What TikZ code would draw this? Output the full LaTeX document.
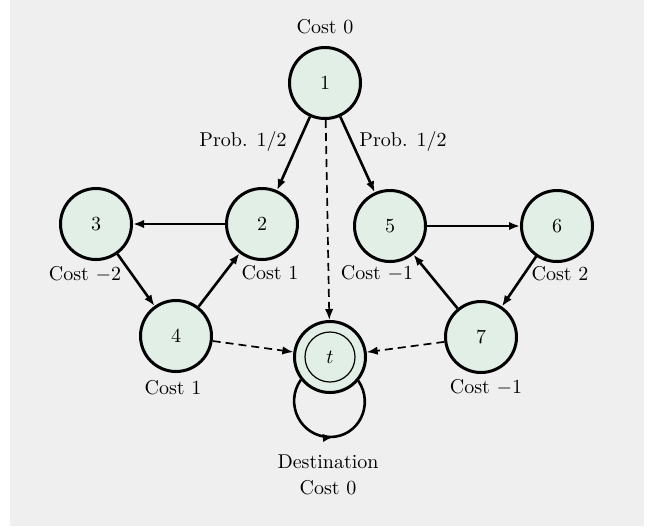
\documentclass[tikz,border=0pt]{standalone}
\usetikzlibrary{arrows.meta,decorations.markings}
\definecolor{bgray}{HTML}{EFEFEF}
\definecolor{nodefill}{HTML}{E1EFE6}
\tikzset{headtip/.tip={Latex[length=5.5pt,width=4.2pt]}}
\begin{document}
\begin{tikzpicture}[x=0.5pt,y=-0.5pt,
  state/.style={circle,draw,line width=1.5pt,fill=nodefill,minimum size=35.5pt,inner sep=0pt},
  arc/.style={-headtip,line width=1.3pt},
  dasharc/.style={-headtip,line width=0.85pt,dash pattern=on 4pt off 2.5pt},
  lbl/.style={inner sep=0pt}]
\useasboundingbox (0,0) rectangle (647,527);
\fill[bgray] (10,0) rectangle (644,526);

% states
\node[state] (n1) at (325,83) {1};
\node[state] (n2) at (262,224) {2};
\node[state] (n3) at (96,224) {3};
\node[state] (n4) at (176,336) {4};
\node[state] (n5) at (390,226) {5};
\node[state] (n6) at (557,226) {6};
\node[state] (n7) at (481,337) {7};
\node[state] (t) at (330,357) {$t$};
\node[circle,draw,line width=0.6pt,minimum size=25pt,inner sep=0pt] (tin) at (t) {};

% labels
\node[lbl] (c1) at (325,27) {Cost 0};
\node[lbl] (p12) at (243,141) {Prob. 1/2};
\node[lbl] (p15) at (403,141) {Prob. 1/2};
\node[lbl] (c3) at (85,274) {Cost $-2$};
\node[lbl] (c2) at (270,273) {Cost 1};
\node[lbl] (c5) at (377,273) {Cost $-1$};
\node[lbl] (c6) at (560,274) {Cost 2};
\node[lbl] (c4) at (173,388) {Cost 1};
\node[lbl] (c7) at (486,387) {Cost $-1$};
\node[lbl,align=center] (ct) at (328,475) {Destination\\[1pt]Cost 0};

% transitions
\draw[arc] (n1) -- (n2);
\draw[arc] (n1) -- (n5);
\draw[arc] (n2) -- (n3);
\draw[arc] (n3) -- (n4);
\draw[arc] (n4) -- (n2);
\draw[arc] (n5) -- (n6);
\draw[arc] (n6) -- (n7);
\draw[arc] (n7) -- (n5);

% termination
\draw[dasharc] (n1) -- (t);
\draw[dasharc] (n4) -- (t);
\draw[dasharc] (n7) -- (t);

% self loop at the destination
\coordinate (lb) at (330,437);
\draw[line width=1.3pt,postaction={decorate},
  decoration={markings,mark=at position 0.53 with {\arrow{headtip}}}]
  (t.-142) to[out=-125,in=180,looseness=1.17] (lb) to[out=0,in=-56,looseness=1.17] (t.-40);
\end{tikzpicture}
\end{document}
